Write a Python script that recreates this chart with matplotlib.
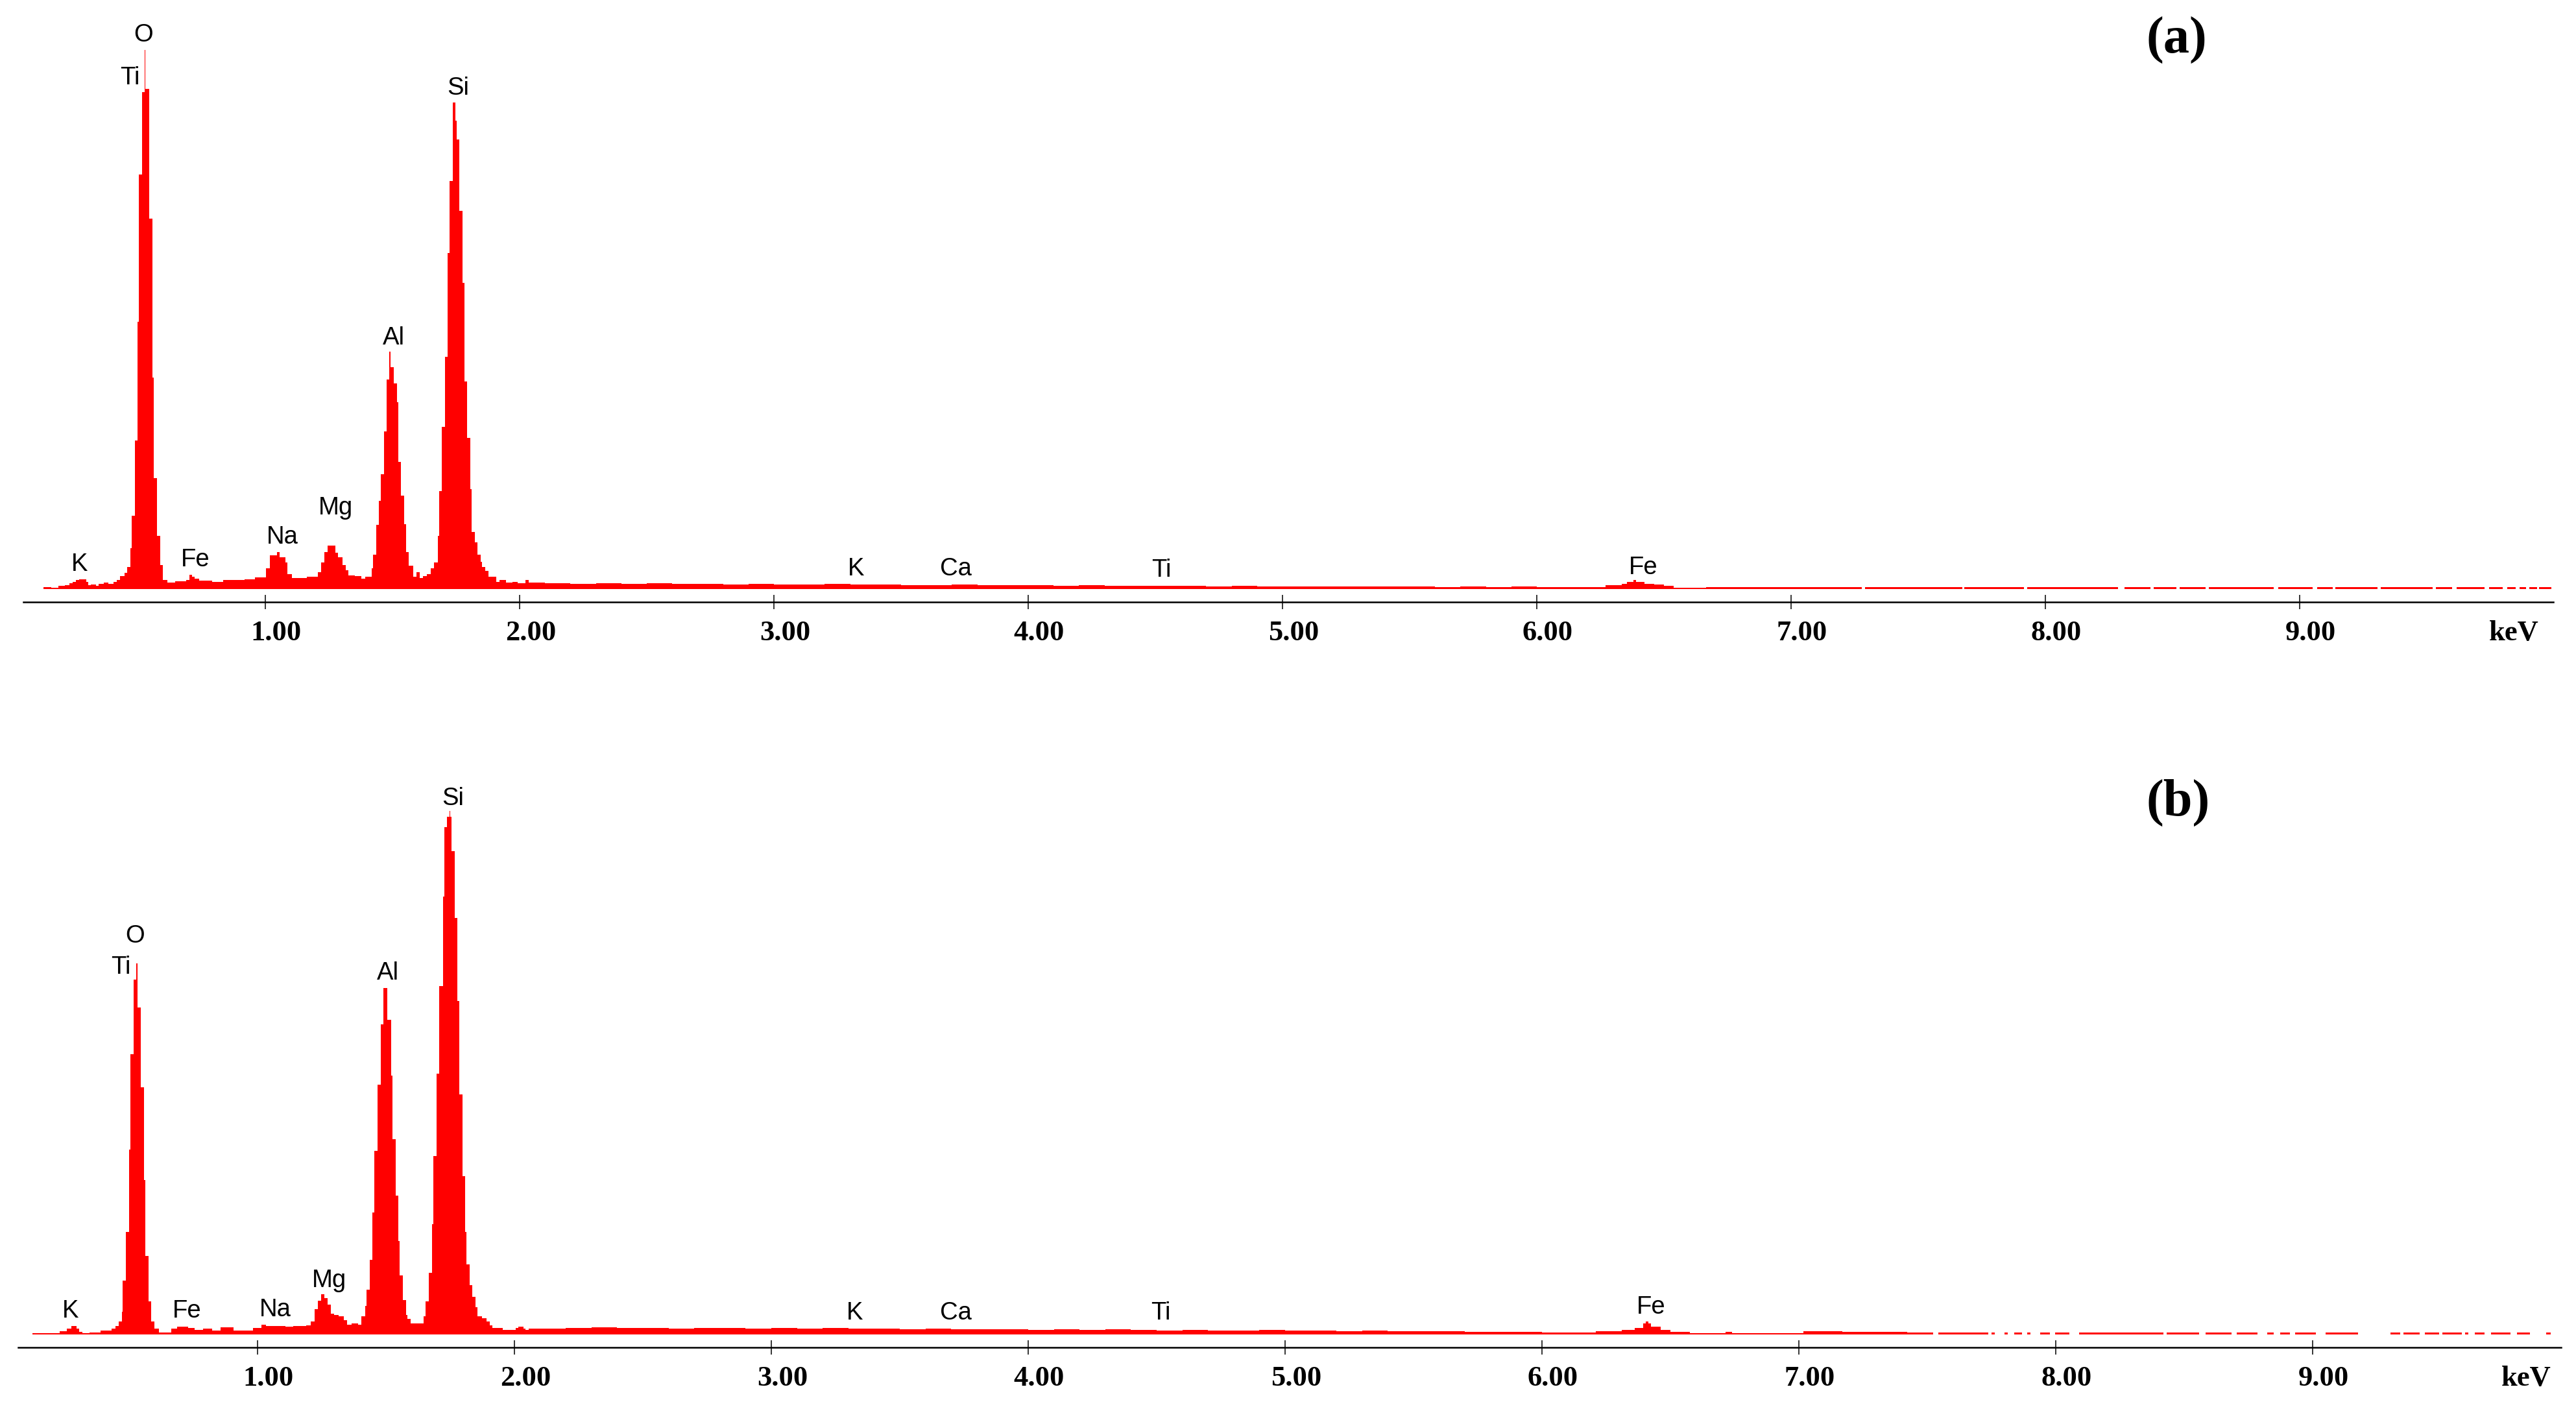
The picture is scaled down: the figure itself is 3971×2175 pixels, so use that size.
import numpy as np
import matplotlib
matplotlib.use("Agg")
import matplotlib.pyplot as plt
from matplotlib.transforms import offset_copy

# ---------------- data (heights in arbitrary counts) ----------------
# Panel (a): low-energy peak region (bin edges in keV, counts per bin)
a_peak_edges = [0.127, 0.157, 0.186, 0.212, 0.229, 0.242, 0.254, 0.267, 0.295, 0.304,
                0.314, 0.333, 0.344, 0.365, 0.382, 0.403, 0.416, 0.429, 0.446, 0.457,
                0.469, 0.474, 0.486, 0.497, 0.503, 0.516, 0.526, 0.529, 0.544, 0.556,
                0.562, 0.574, 0.586, 0.598, 0.616, 0.645, 0.688, 0.701, 0.713, 0.722,
                0.739, 0.790, 0.833, 0.918, 0.960, 1.003, 1.018, 1.045, 1.055, 1.079,
                1.088, 1.105, 1.122, 1.164, 1.207, 1.219, 1.232, 1.245, 1.275, 1.287,
                1.304, 1.317, 1.326, 1.351, 1.377, 1.394, 1.419, 1.424, 1.435, 1.446,
                1.453, 1.466, 1.477, 1.487, 1.493, 1.504, 1.517, 1.523, 1.534, 1.547,
                1.553, 1.564, 1.581, 1.594, 1.606, 1.619, 1.636, 1.651, 1.664, 1.679,
                1.683, 1.693, 1.706, 1.717, 1.725, 1.736, 1.747, 1.753, 1.764, 1.776,
                1.782, 1.793, 1.806, 1.812, 1.823, 1.834, 1.846, 1.853, 1.866, 1.878,
                1.908, 1.921, 1.946, 1.972, 1.993, 2.023, 2.036, 2.100]
a_peak_counts = [3, 2, 5, 6, 9, 11, 14, 15, 11, 6,
                 7, 5, 8, 10, 8, 11, 14, 20, 25, 34,
                 63, 113, 229, 412, 639, 766, 831, 771, 571, 326,
                 171, 82, 37, 14, 10, 12, 14, 22, 19, 16,
                 13, 11, 14, 15, 18, 32, 52, 57, 49, 41,
                 23, 17, 17, 19, 26, 41, 57, 67, 56, 49,
                 37, 29, 21, 20, 16, 19, 32, 53, 99, 136,
                 177, 243, 323, 366, 342, 317, 288, 196, 144, 100,
                 57, 36, 19, 26, 17, 20, 23, 32, 41, 82,
                 151, 250, 358, 518, 629, 750, 722, 693, 583, 472,
                 320, 233, 154, 88, 72, 53, 42, 34, 28, 19,
                 11, 14, 10, 11, 9, 14, 10]
# Panel (a): background 2.1-6.1 keV, 0.1 keV bins
a_bg_counts = [9, 8, 9, 8, 9, 8, 8, 7, 8, 7,
               7, 8, 7, 7, 6, 6, 7, 6, 6, 6,
               5, 6, 5, 5, 5, 5, 4, 5, 4, 4,
               4, 4, 4, 4, 4, 3, 4, 3, 4, 3]
# Panel (a): Fe region
a_fe_edges = [6.1, 6.271, 6.334, 6.355, 6.38, 6.39, 6.423, 6.462, 6.500, 6.538, 6.666, 7.278]
a_fe_counts = [3, 6, 8, 11, 14, 11, 8, 7, 5, 2, 3]
# Panel (a): high-energy tail (zero-count gaps)
a_tail_edges = [7.278, 7.291, 7.673, 7.681, 7.916, 7.929, 8.286, 8.311, 8.413, 8.426,
                8.515, 8.528, 8.630, 8.643, 8.898, 8.916, 9.051, 9.069, 9.130, 9.140,
                9.306, 9.319, 9.523, 9.536, 9.599, 9.617, 9.727, 9.745, 9.798, 9.816,
                9.849, 9.864, 9.890, 9.903, 9.934, 9.941, 9.990]
a_tail_counts = [0, 3, 0, 3, 0, 3, 0, 3, 0, 3, 0, 3, 0, 3, 0, 3, 0, 3,
                 0, 3, 0, 3, 0, 3, 0, 3, 0, 3, 0, 3, 0, 3, 0, 3, 0, 3]

# Panel (b)
b_peak_edges = [0.125, 0.229, 0.258, 0.275, 0.296, 0.305, 0.317, 0.347, 0.389, 0.431,
                0.448, 0.459, 0.471, 0.476, 0.487, 0.499, 0.506, 0.518, 0.528, 0.533,
                0.545, 0.557, 0.563, 0.575, 0.587, 0.599, 0.616, 0.663, 0.688, 0.730,
                0.755, 0.789, 0.822, 0.856, 0.907, 0.957, 0.982, 1.016, 1.033, 1.109,
                1.138, 1.189, 1.208, 1.222, 1.235, 1.248, 1.260, 1.273, 1.285, 1.298,
                1.315, 1.336, 1.349, 1.365, 1.391, 1.403, 1.418, 1.424, 1.437, 1.448,
                1.454, 1.466, 1.479, 1.490, 1.506, 1.519, 1.525, 1.538, 1.548, 1.553,
                1.566, 1.578, 1.584, 1.597, 1.647, 1.654, 1.667, 1.679, 1.685, 1.696,
                1.708, 1.721, 1.727, 1.738, 1.747, 1.750, 1.755, 1.767, 1.778, 1.785,
                1.797, 1.807, 1.814, 1.826, 1.837, 1.849, 1.855, 1.875, 1.891, 1.904,
                1.913, 1.955, 2.005, 2.014, 2.035, 2.043, 2.056, 2.100]
b_peak_counts = [2, 5, 9, 13, 9, 4, 2, 3, 6, 9,
                 13, 20, 35, 83, 158, 285, 432, 547, 572, 504,
                 381, 238, 121, 51, 20, 9, 3, 9, 12, 10,
                 7, 9, 6, 11, 6, 6, 10, 15, 13, 12,
                 13, 14, 20, 39, 52, 62, 56, 46, 32, 30,
                 28, 22, 15, 17, 15, 28, 44, 69, 115, 188,
                 283, 385, 478, 534, 485, 399, 301, 214, 144, 91,
                 53, 30, 24, 17, 28, 51, 95, 170, 275, 402,
                 537, 675, 782, 798, 807, 798, 745, 642, 514, 370,
                 244, 158, 108, 76, 58, 42, 28, 25, 20, 14,
                 10, 7, 10, 12, 9, 7, 9]
b_bg_counts = [9, 10, 11, 10, 10, 9, 10, 10, 9, 10,
               9, 10, 9, 9, 8, 9, 8, 8, 8, 7,
               8, 7, 8, 7, 6, 7, 6, 6, 7, 6,
               6, 5, 6, 5, 5, 5, 4, 4, 4, 3]
b_fe_edges = [6.1, 6.210, 6.311, 6.361, 6.394, 6.405, 6.415, 6.424, 6.462, 6.500,
              6.576, 6.715, 6.740, 7.018, 7.169, 7.422]
b_fe_counts = [3, 5, 7, 10, 17, 20, 17, 12, 7, 4, 2.5, 4, 2.5, 5, 4]
b_tail_edges = [7.422, 7.523, 7.543, 7.737, 7.750, 7.763, 7.801, 7.813, 7.838, 7.869,
                7.889, 7.902, 7.939, 7.977, 7.997, 8.053, 8.091, 8.419, 8.432, 8.558,
                8.583, 8.684, 8.705, 8.785, 8.823, 8.848, 8.874, 8.912, 8.932, 9.013,
                9.051, 9.177, 9.303, 9.341, 9.354, 9.417, 9.437, 9.492, 9.505, 9.581,
                9.593, 9.606, 9.631, 9.669, 9.694, 9.770, 9.795, 9.846, 9.909, 9.927]
b_tail_counts = [3, 0, 3, 0, 3, 0, 3, 0, 3, 0, 3, 0, 3, 0, 3, 0, 3, 0, 3, 0,
                 3, 0, 3, 0, 3, 0, 3, 0, 3, 0, 3, 0, 3, 0, 3, 0, 3, 0, 3, 0,
                 3, 0, 3, 0, 3, 0, 3, 0, 3]

bg_edges = np.round(np.linspace(2.1, 6.1, 41), 3)

# Element labels
elements = ["K", "O", "Ti", "Fe", "Na", "Mg", "Al", "Si", "K", "Ca", "Ti", "Fe"]
a_label_x = [0.269, 0.520, 0.467, 0.724, 1.066, 1.277, 1.506, 1.759, 3.324, 3.716, 4.523, 6.418]
a_label_y = [28, 844, 778, 35, 70, 115, 377, 762, 21, 21, 19, 23]
b_label_x = [0.271, 0.522, 0.467, 0.726, 1.068, 1.279, 1.508, 1.761, 3.326, 3.718, 4.517, 6.424]
b_label_y = [26, 604, 556, 26, 28, 73, 547, 816, 23, 23, 23, 32]

tick_values = [1, 2, 3, 4, 5, 6, 7, 8, 9]
tick_labels = ["1.00", "2.00", "3.00", "4.00", "5.00", "6.00", "7.00", "8.00", "9.00"]

# ---------------- figure ----------------
W, H = 3971, 2175
DPI = 100
fig = plt.figure(figsize=(W / DPI, H / DPI), dpi=DPI)
fig.patch.set_facecolor("white")

RED = "#FF0000"
SANS = ["Liberation Sans", "DejaVu Sans"]
SERIF = ["Liberation Serif", "DejaVu Serif"]


def make_axes(left_px, right_px, top_px, axis_px):
    return fig.add_axes([left_px / W, 1 - axis_px / H,
                         (right_px - left_px) / W, (axis_px - top_px) / H])


panels = [
    dict(box=(36, 3936, 20, 928), xlim=(0.0485, 9.9974), ylim=(-20, 888),
         regions=[(a_peak_edges, a_peak_counts), (bg_edges, a_bg_counts),
                  (a_fe_edges, a_fe_counts), (a_tail_edges, a_tail_counts)],
         lx=a_label_x, ly=a_label_y, tag="(a)", tag_xy=(8.515, 846), kev_x=9.842),
    dict(box=(28, 3948, 1160, 2077), xlim=(0.0682, 9.9672), ylim=(-20, 897),
         regions=[(b_peak_edges, b_peak_counts), (bg_edges, b_bg_counts),
                  (b_fe_edges, b_fe_counts), (b_tail_edges, b_tail_counts)],
         lx=b_label_x, ly=b_label_y, tag="(b)", tag_xy=(8.477, 820), kev_x=9.831),
]

for p in panels:
    ax = make_axes(*p["box"])
    ax.set_xlim(*p["xlim"])
    ax.set_ylim(*p["ylim"])
    ax.set_facecolor("none")

    for edges, counts in p["regions"]:
        ax.stairs(counts, edges, baseline=0, fill=True, color=RED, linewidth=0)

    for side in ("top", "left", "right"):
        ax.spines[side].set_visible(False)
    ax.spines["bottom"].set_linewidth(1.8)
    ax.spines["bottom"].set_color("black")
    ax.set_yticks([])
    ax.set_xticks(tick_values)
    ax.tick_params(axis="x", direction="inout", length=16.5, width=1.1,
                   color="black", labelbottom=False)

    lab_tr = offset_copy(ax.get_xaxis_transform(), fig=fig, x=12.2, y=-42.8, units="points")
    for t, s in zip(tick_values, tick_labels):
        ax.text(t, 0, s, transform=lab_tr, ha="center", va="baseline",
                fontsize=32, fontweight="bold", family=SERIF, clip_on=False)
    kev_tr = offset_copy(ax.get_xaxis_transform(), fig=fig, x=0, y=-42.8, units="points")
    ax.text(p["kev_x"], 0, "keV", transform=kev_tr, ha="center", va="baseline",
            fontsize=32, fontweight="bold", family=SERIF, clip_on=False)

    for name, x, y in zip(elements, p["lx"], p["ly"]):
        ax.text(x, y, name, ha="center", va="baseline", fontsize=27.5,
                family=SANS, color="black", clip_on=False)

    ax.text(p["tag_xy"][0], p["tag_xy"][1], p["tag"], ha="center", va="center",
            fontsize=58, fontweight="bold", family=SERIF, clip_on=False)

fig.savefig("out.png", dpi=DPI, facecolor="white")
